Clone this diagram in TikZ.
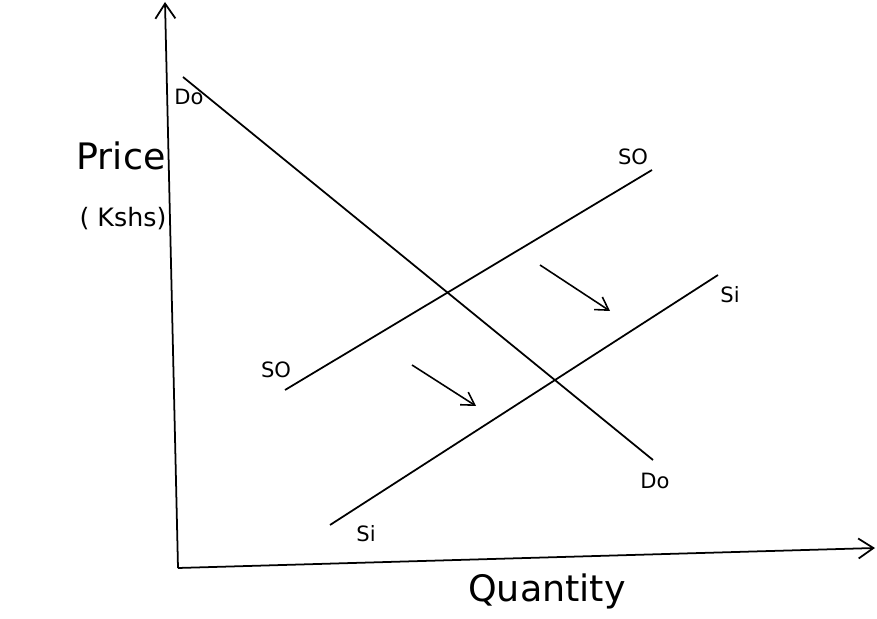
\documentclass[tikz,border=0pt]{standalone}
\usepackage{fontspec}
\setmainfont{DejaVu Sans}
\usepackage{tikz}
\usetikzlibrary{arrows.meta,positioning,calc}
\tikzset{
    axis_line/.style={-{Straight Barb[length=3mm,width=4mm]}, line width=1pt, black},
    curve_line/.style={line width=1pt, black},
    shift_arrow/.style={-{Straight Barb[length=2.5mm,width=3mm]}, line width=0.9pt, black},
    curve_label/.style={font=\large, inner sep=1pt},
    axis_label/.style={font=\huge, inner sep=1pt}
}

\begin{document}
\begin{tikzpicture}
  \useasboundingbox (0,0) rectangle (17.54,12.38);

  % Axes
  \coordinate (origin) at (3.56,1.02);
  \coordinate (ytop) at (3.30,12.34);
  \coordinate (xend) at (17.50,1.42);
  \draw[axis_line] (origin) -- (ytop);
  \draw[axis_line] (origin) -- (xend);

  % Demand curve D0
  \coordinate (d0_top) at (3.66,10.84);
  \coordinate (d0_bot) at (13.06,3.18);
  \draw[curve_line] (d0_top) -- (d0_bot);

  % Supply curves S0 and S1
  \coordinate (s0_bot) at (5.70,4.58);
  \coordinate (s0_top) at (13.04,8.98);
  \coordinate (s1_bot) at (6.60,1.88);
  \coordinate (s1_top) at (14.36,6.88);
  \draw[curve_line] (s0_bot) -- (s0_top);
  \draw[curve_line] (s1_bot) -- (s1_top);

  % Curve labels
  \node[curve_label] (lbl_d0_top) at (3.78,10.44) {Do};
  \node[curve_label] (lbl_d0_bot) at (13.10,2.76) {Do};
  \node[curve_label] (lbl_s0_top) at (12.66,9.24) {SO};
  \node[curve_label] (lbl_s0_bot) at (5.52,4.98) {SO};
  \node[curve_label] (lbl_s1_top) at (14.60,6.48) {Si};
  \node[curve_label] (lbl_s1_bot) at (7.32,1.70) {Si};

  % Shift arrows
  \coordinate (sh1_a) at (10.80,7.08);
  \coordinate (sh1_b) at (12.20,6.16);
  \coordinate (sh2_a) at (8.24,5.08);
  \coordinate (sh2_b) at (9.52,4.26);
  \draw[shift_arrow] (sh1_a) -- (sh1_b);
  \draw[shift_arrow] (sh2_a) -- (sh2_b);

  % Axis titles
  \node[axis_label] (price) at (2.42,9.26) {Price};
  \node[font=\Large] (kshs) at (2.46,8.00) {( Kshs)};
  \node[axis_label] (quantity) at (10.94,0.56) {Quantity};

\end{tikzpicture}
\end{document}
